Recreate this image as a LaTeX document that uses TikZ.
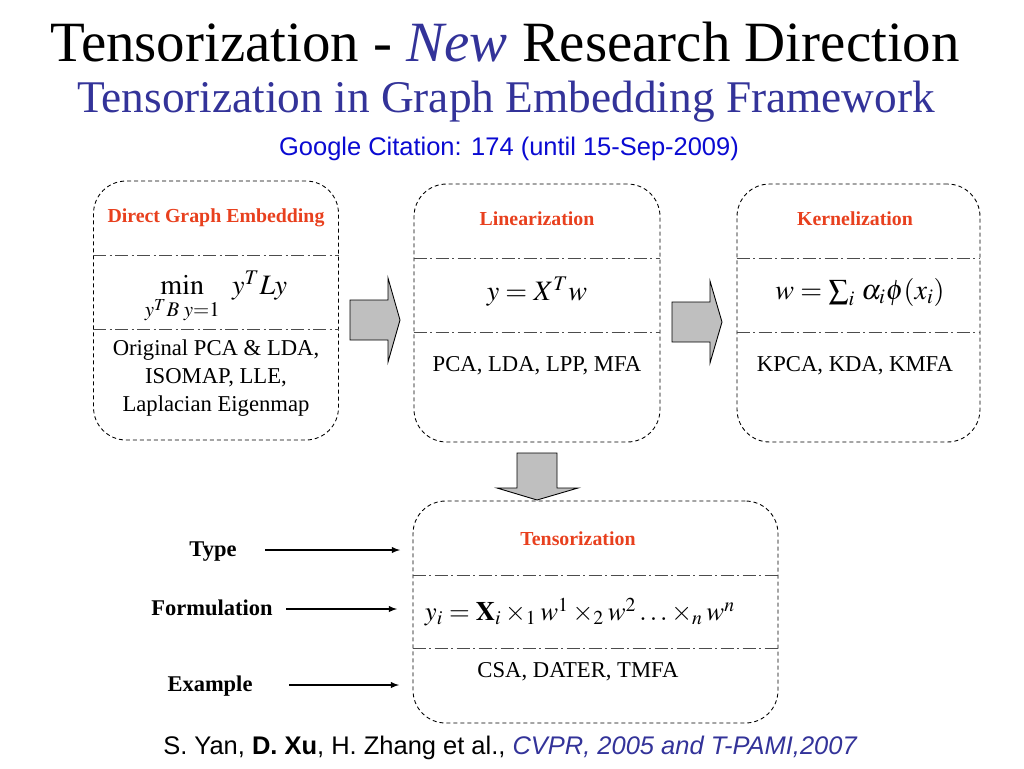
\documentclass[tikz,border=0pt]{standalone}
\usepackage{mathptmx}
\usepackage[no-math]{fontspec}
\setmainfont{Liberation Serif}
\setsansfont{Liberation Sans}
\usetikzlibrary{positioning}

\definecolor{titleblue}{RGB}{51,51,153}
\definecolor{citeblue}{RGB}{10,10,210}
\definecolor{headred}{RGB}{232,64,30}

\begin{document}
\begin{tikzpicture}[
    x=0.02cm, y=-0.02cm,
    >=latex,
    stage/.style={draw, dashed, dash pattern=on 0.8mm off 0.6mm, rounded corners=6.5mm, line width=0.5pt},
    sepline/.style={draw=black!70, line width=0.5pt, dash pattern=on 2.6mm off 0.7mm on 0.4mm off 0.7mm},
    header/.style={font=\fontsize{11.3}{13}\selectfont\bfseries, text=headred},
    body/.style={font=\fontsize{12.9}{15.8}\selectfont, align=center},
    formula/.style={font=\fontsize{16}{18}\selectfont},
    label/.style={font=\fontsize{12.8}{15}\selectfont\bfseries},
    blockarrow/.style={draw, fill=black!25, line width=0.5pt},
    arrow/.style={->, line width=0.6pt}
]
  \useasboundingbox (0,0) rectangle (1024,768);

  % titles
  \node[font=\fontsize{32.4}{36}\selectfont] (title) at (505,42) {Tensorization - {\itshape\color{titleblue}New} Research Direction};
  \node[font=\fontsize{25.8}{30}\selectfont, text=titleblue] (subtitle) at (506,102) {Tensorization in Graph Embedding Framework};
  \node[font=\sffamily\fontsize{14.5}{16}\selectfont, text=citeblue] (cite) at (509,149) {Google Citation: 174 (until 15-Sep-2009)};

  % the four stages
  \node[stage, minimum width=49.0mm, minimum height=51.8mm] (dge) at (216,310.5) {};
  \node[stage, minimum width=49.2mm, minimum height=51.6mm] (lin) at (537,313) {};
  \node[stage, minimum width=48.6mm, minimum height=51.6mm] (ker) at (858.5,313) {};
  \node[stage, minimum width=73.0mm, minimum height=44.4mm] (ten) at (595.5,612) {};

  \draw[sepline] (dge.west |- 0,255) -- (dge.east |- 0,255);
  \draw[sepline] (dge.west |- 0,329) -- (dge.east |- 0,329);
  \draw[sepline] (lin.west |- 0,258) -- (lin.east |- 0,258);
  \draw[sepline] (lin.west |- 0,332) -- (lin.east |- 0,332);
  \draw[sepline] (ker.west |- 0,258) -- (ker.east |- 0,258);
  \draw[sepline] (ker.west |- 0,332) -- (ker.east |- 0,332);
  \draw[sepline] (ten.west |- 0,575) -- (ten.east |- 0,575);
  \draw[sepline] (ten.west |- 0,648) -- (ten.east |- 0,648);

  \node[header] (dgeHead) at (216,218) {Direct Graph Embedding};
  \node[formula] (dgeForm) at (216,297) {$\min\limits_{y^TB\;y=1}\;\, y^T L y$};
  \node[body] (dgeEx) at (216,378) {Original PCA \& LDA,\\ISOMAP, LLE,\\Laplacian Eigenmap};

  \node[header] (linHead) at (537,219) {Linearization};
  \node[formula] (linForm) at (537,292) {$y = X^T w$};
  \node[body] (linEx) at (537,366) {PCA, LDA, LPP, MFA};

  \node[header] (kerHead) at (855,219) {Kernelization};
  \node[formula] (kerForm) at (860,292) {$w = \sum_i\, \alpha_i \phi(x_i)$};
  \node[body] (kerEx) at (855,366) {KPCA, KDA, KMFA};

  \node[header] (tenHead) at (578,539) {Tensorization};
  \node[formula, font=\fontsize{15.2}{18}\selectfont] (tenForm) at (580,612) {$y_i = \mathbf{X}_i \times_1 w^1 \times_2 w^2 \ldots \times_n w^n$};
  \node[body] (tenEx) at (578,672) {CSA, DATER, TMFA};

  % block arrows between stages
  \draw[blockarrow] (350,300) -- (388,300) -- (388,278) -- (400,320) -- (388,362) -- (388,340) -- (350,340) -- cycle;
  \draw[blockarrow] (672,302) -- (710,302) -- (710,281) -- (722,322) -- (710,363) -- (710,342) -- (672,342) -- cycle;
  \draw[blockarrow] (517,453) -- (557,453) -- (557,488) -- (578,488) -- (537,500) -- (497,488) -- (517,488) -- cycle;

  % row labels
  \node[label] (type) at (213,552) {Type};
  \node[label] (formul) at (212,608) {Formulation};
  \node[label] (example) at (210,686) {Example};
  \coordinate (typeEnd) at (400,550);
  \coordinate (formulEnd) at (397,609);
  \coordinate (exampleEnd) at (399,685);
  \draw[arrow] (265,550) -- (typeEnd);
  \draw[arrow] (286,609) -- (formulEnd);
  \draw[arrow] (289,685) -- (exampleEnd);

  % reference
  \node[font=\sffamily\fontsize{14.5}{17}\selectfont] (ref) at (510,748) {S. Yan, \textbf{D. Xu}, H. Zhang et al., {\itshape\color{titleblue}CVPR, 2005 and T-PAMI,2007}};
\end{tikzpicture}
\end{document}
